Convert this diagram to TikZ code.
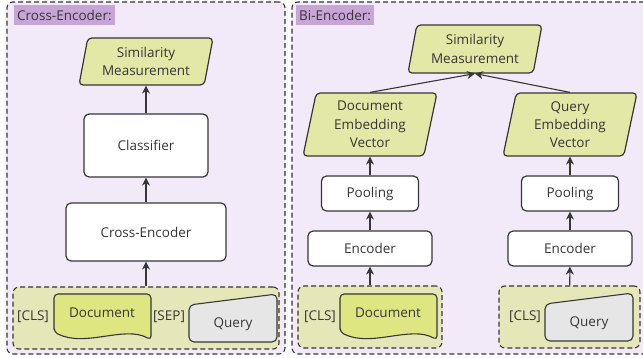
\documentclass[tikz,border=0pt]{standalone}
\usepackage{fontspec}
\setmainfont{Open Sans}
\usetikzlibrary{shapes.geometric,positioning,arrows.meta}

\definecolor{boxline}{HTML}{363636}
\definecolor{panelfill}{HTML}{F2EAF8}
\definecolor{titlefill}{HTML}{C7A5D7}
\definecolor{outfill}{HTML}{E3E8A6}
\definecolor{infill}{HTML}{E6E7B9}
\definecolor{docfill}{HTML}{DDE680}
\definecolor{queryfill}{HTML}{E6E6E6}

% document sheet: name, text centre, text
\newcommand{\docshape}[3]{%
  \draw[docline] ([shift={(-48,19)}]#2) -- ([shift={(-48,-19)}]#2) -- ([shift={(49,-19)}]#2) -- ([shift={(49,27)}]#2)
    .. controls ([shift={(23,12)}]#2) and ([shift={(-17,35)}]#2) .. cycle;
  \node (#1) at (#2) {#3};}
% manual input: name, text centre, text
\newcommand{\queryshape}[3]{%
  \draw[queryline] ([shift={(-44,-19)}]#2) -- ([shift={(44,-30)}]#2) -- ([shift={(44,18)}]#2) -- ([shift={(-44,18)}]#2) -- cycle;
  \node (#1) at (#2) {#3};}

\begin{document}
\begin{tikzpicture}[x=1pt, y=-1pt, >={Stealth[length=8pt,width=8pt,inset=2.5pt]},
  font=\fontsize{13.5}{18.3}\selectfont, text=boxline,
  panel/.style={draw=boxline, dash pattern=on 5pt off 3pt, line width=1.1pt, rounded corners=6pt, fill=panelfill},
  title/.style={anchor=north west, fill=titlefill, minimum height=20pt, inner xsep=3pt, inner ysep=0pt},
  inbox/.style={draw=boxline, dash pattern=on 5pt off 3pt, line width=1.1pt, rounded corners=6pt, fill=infill},
  stepbox/.style={draw=boxline, line width=1.2pt, rounded corners=5pt, fill=white, align=center},
  outbox/.style={trapezium, trapezium left angle=76, trapezium right angle=104, trapezium stretches body,
    draw=boxline, line width=1.2pt, rounded corners=4pt, fill=outfill, align=center, inner xsep=0pt},
  docline/.style={draw=boxline, line width=1.1pt, rounded corners=4pt, fill=docfill},
  queryline/.style={draw=boxline, line width=1.1pt, rounded corners=5pt, fill=queryfill},
  link/.style={->, draw=boxline, line width=1.1pt}]

\useasboundingbox (0,0) rectangle (643,358);

% panels
\node (cross_panel) at (146,178) [panel, minimum width=278pt, minimum height=352pt] {};
\node (bi_panel) at (471,178) [panel, minimum width=358pt, minimum height=352pt] {};
\node (cross_title) at (14,5) [title] {Cross-Encoder:};
\node (bi_title) at (296,5) [title] {Bi-Encoder:};

% cross-encoder
\node (cross_in) at (146,318) [inbox, minimum width=266pt, minimum height=62pt] {};
\node (cross_cls) at (33,317) {[CLS]};
\docshape{cross_doc}{102,313}{Document}
\node (cross_sep) at (169,317) {[SEP]};
\queryshape{cross_query}{233,324}{Query}

\node (cross_enc) at (146,232) [stepbox, minimum width=160pt, minimum height=58pt] {Cross-Encoder};
\node (cross_clf) at (146,145.5) [stepbox, minimum width=124pt, minimum height=63pt] {Classifier};
\node (cross_sim) at (146,61.5) [outbox, minimum width=134pt, minimum height=47pt] {Similarity\\Measurement};

\draw [link] (cross_in) -- (cross_enc);
\draw [link] (cross_enc) -- (cross_clf);
\draw [link] (cross_clf) -- (cross_sim);

% bi-encoder
\node (bi_doc_in) at (370,317) [inbox, minimum width=144pt, minimum height=62pt] {};
\node (bi_query_in) at (569.5,317) [inbox, minimum width=141pt, minimum height=62pt] {};
\node (bi_doc_cls) at (320,317) {[CLS]};
\docshape{bi_doc}{388,313}{Document}
\node (bi_query_cls) at (525,317) {[CLS]};
\queryshape{bi_query}{589,323}{Query}

\node (bi_doc_enc) at (370,248.5) [stepbox, minimum width=124pt, minimum height=35pt] {Encoder};
\node (bi_query_enc) at (570,248.5) [stepbox, minimum width=124pt, minimum height=35pt] {Encoder};
\node (bi_doc_pool) at (370,193.5) [stepbox, minimum width=97pt, minimum height=35pt] {Pooling};
\node (bi_query_pool) at (570,193.5) [stepbox, minimum width=97pt, minimum height=35pt] {Pooling};
\node (bi_doc_emb) at (370,124.5) [outbox, minimum width=134pt, minimum height=63pt] {Document\\Embedding\\Vector};
\node (bi_query_emb) at (570,124.5) [outbox, minimum width=134pt, minimum height=63pt] {Query\\Embedding\\Vector};
\node (bi_sim) at (475,49) [outbox, minimum width=134pt, minimum height=48pt] {Similarity\\Measurement};

\draw [link] (bi_doc_in) -- (bi_doc_enc);
\draw [link] (bi_doc_enc) -- (bi_doc_pool);
\draw [link] (bi_doc_pool) -- (bi_doc_emb);
\draw [link] (bi_doc_emb.north) -- (bi_sim.south);
\draw [link] (bi_query_in) -- (bi_query_enc);
\draw [link] (bi_query_enc) -- (bi_query_pool);
\draw [link] (bi_query_pool) -- (bi_query_emb);
\draw [link] (bi_query_emb.north) -- (bi_sim.south);

\end{tikzpicture}
\end{document}
